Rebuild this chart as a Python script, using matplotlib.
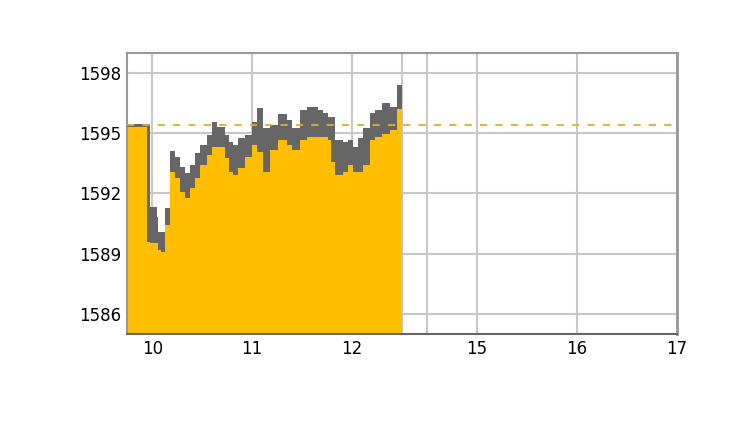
import matplotlib
matplotlib.use('Agg')
import matplotlib.pyplot as plt
import numpy as np

# intraday data (hours, real clock time)
hours = [9.75, 9.95, 9.98, 10.05, 10.06, 10.09, 10.13, 10.18, 10.23, 10.28,
         10.33, 10.38, 10.43, 10.48, 10.55, 10.60, 10.65, 10.73, 10.77, 10.81,
         10.86, 10.93, 11.00, 11.05, 11.11, 11.18, 11.26, 11.35, 11.40, 11.48,
         11.55, 11.66, 11.71, 11.76, 11.79, 11.83, 11.91, 11.96, 12.01, 12.06,
         12.11, 12.18, 12.23, 12.30, 12.38, 12.45, 12.50]
high = [1595.45, 1595.45, 1591.33, 1590.83, 1590.09, 1590.09, 1591.28, 1594.11, 1593.81, 1593.31,
        1593.02, 1593.41, 1594.01, 1594.41, 1594.91, 1595.55, 1595.30, 1594.91, 1594.56, 1594.41,
        1594.76, 1594.91, 1595.55, 1596.25, 1595.25, 1595.40, 1595.95, 1595.65, 1595.25, 1596.15,
        1596.30, 1596.15, 1596.00, 1595.80, 1595.80, 1594.66, 1594.56, 1594.66, 1594.31, 1594.76,
        1595.25, 1596.00, 1596.15, 1596.49, 1596.30, 1597.39, 1597.39]
low = [1595.30, 1589.59, 1589.54, 1589.54, 1589.19, 1589.09, 1590.43, 1593.07, 1592.77, 1592.07,
       1591.77, 1592.27, 1592.77, 1593.41, 1593.91, 1594.31, 1594.31, 1593.76, 1593.07, 1592.92,
       1593.27, 1593.81, 1594.41, 1594.06, 1593.07, 1594.16, 1594.66, 1594.41, 1594.16, 1594.66,
       1594.81, 1594.81, 1594.81, 1594.66, 1593.56, 1592.92, 1593.07, 1593.41, 1593.07, 1593.07,
       1593.41, 1594.66, 1594.81, 1594.96, 1595.15, 1596.20, 1596.20]
prev_close = 1595.4

y_ticks = [1586, 1589, 1592, 1595, 1598]
x_ticks = [10, 11, 12, 15, 16, 17]
x_grid = [10, 11, 12, 12.5, 14.5, 15, 16, 17]


def to_axis(h):
    # lunch break 12.5 -> 14.5 is squeezed into a quarter hour
    h = np.asarray(h, dtype=float)
    return np.where(h > 12.5, h - 1.75, h)


fig = plt.figure(figsize=(7.5, 4.22), dpi=100)
ax = fig.add_axes([0.1697, 0.2085, 0.7326, 0.6666])

x = to_axis(hours)
ax.fill_between(x, 1585, low, step='post', color='#FFBE00', lw=0, zorder=2)
ax.fill_between(x, low, high, step='post', color='#666666', lw=0, zorder=3)
ax.axhline(prev_close, color='#E6A640', lw=1.3, ls=(0, (4, 4.5)), zorder=4)

for yv in y_ticks:
    ax.axhline(yv, color='#C8C8C8', lw=1.5, zorder=1)
for xv in to_axis(x_grid):
    ax.axvline(xv, color='#C8C8C8', lw=1.5, zorder=1)

ax.set_xlim(9.75, 15.25)
ax.set_ylim(1585, 1599)
ax.set_yticks(y_ticks)
ax.set_yticklabels([str(v) for v in y_ticks])
ax.set_xticks(to_axis(x_ticks))
ax.set_xticklabels([str(v) for v in x_ticks])
ax.tick_params(length=0, labelsize=12, labelcolor='black', pad=4)

for side in ['left', 'top', 'right']:
    ax.spines[side].set_color('#999999')
    ax.spines[side].set_linewidth(1.5)
ax.spines['right'].set_linewidth(2)
ax.spines['bottom'].set_color('#666666')
ax.spines['bottom'].set_linewidth(1.5)

fig.savefig('out.png', dpi=100)
